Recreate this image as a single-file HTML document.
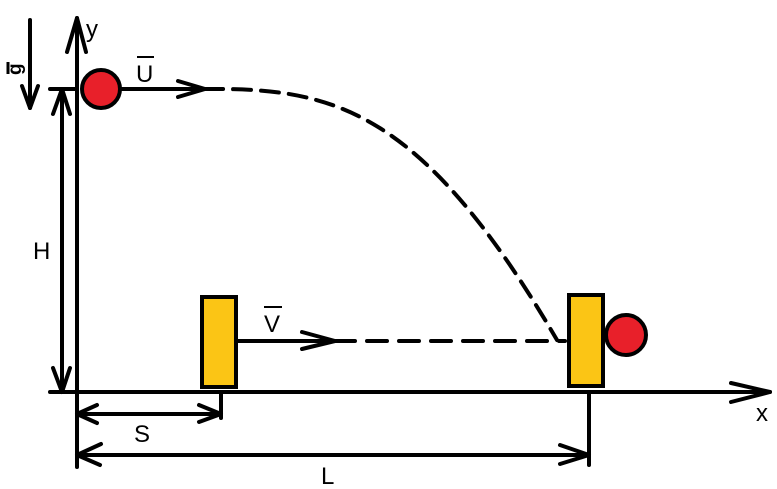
<!DOCTYPE html>
<html><head><meta charset="utf-8"><style>
html,body{margin:0;padding:0;background:#fff;width:777px;height:489px;overflow:hidden}
svg{display:block}
text{font-family:"Liberation Sans",sans-serif;fill:#000}
</style></head><body>
<svg width="777" height="489" viewBox="0 0 777 489" xmlns="http://www.w3.org/2000/svg">
<g stroke="#000" stroke-width="4" fill="none" stroke-linecap="round" stroke-linejoin="round">
<line x1="77" y1="18" x2="77" y2="467"/>
<polyline points="67,52 77,18 86,52"/>
<line x1="50" y1="392" x2="770" y2="392"/>
<polyline points="731,383 770,392 731,402"/>
<line x1="30" y1="20" x2="30" y2="108"/>
<polyline points="22,86 30,108 38,86"/>
<line x1="50" y1="89" x2="77" y2="89"/>
<line x1="62" y1="89" x2="62" y2="392"/>
<polyline points="53,114 62,89 70,114"/>
<polyline points="53,368 62,392 70,368"/>
<line x1="120" y1="89" x2="205" y2="89"/>
<polyline points="178,81 205,89 178,97"/>
<path d="M205,89 C330,88 420,105 557,340" stroke-dasharray="18,10"/>
<line x1="236" y1="341" x2="335" y2="341"/>
<polyline points="302,332 335,341 302,349"/>
<line x1="335" y1="341" x2="565" y2="341" stroke-dasharray="20,12"/>
<line x1="221" y1="392" x2="221" y2="418"/>
<line x1="77" y1="414" x2="221" y2="414"/>
<polyline points="97,405 77,414 97,423"/>
<polyline points="199,405 221,414 199,422"/>
<line x1="589" y1="392" x2="589" y2="465"/>
<line x1="77" y1="455" x2="589" y2="455"/>
<polyline points="101,444 77,455 100,465"/>
<polyline points="560,445 589,455 560,464"/>
</g>
<rect x="202" y="297" width="34" height="90" fill="#fbc515" stroke="#000" stroke-width="4"/>
<rect x="569" y="295" width="34" height="91" fill="#fbc515" stroke="#000" stroke-width="4"/>
<circle cx="101" cy="89" r="19" fill="#e8202a" stroke="#000" stroke-width="4"/>
<circle cx="626" cy="335" r="20" fill="#e8202a" stroke="#000" stroke-width="4"/>
<text x="86" y="37" font-size="24">y</text>
<text x="756" y="421" font-size="24">x</text>
<text x="136" y="82" font-size="24">U</text>
<line x1="137" y1="57" x2="154" y2="57" stroke="#000" stroke-width="2"/>
<text x="264" y="332" font-size="24">V</text>
<line x1="264" y1="307" x2="282" y2="307" stroke="#000" stroke-width="2"/>
<text x="33" y="259" font-size="24">H</text>
<text x="134" y="442" font-size="24">S</text>
<text x="321" y="484" font-size="24">L</text>
<text transform="translate(21,75) rotate(-90)" font-size="19" font-weight="bold">g</text>
<line x1="8" y1="62" x2="8" y2="74" stroke="#000" stroke-width="3"/>
</svg>
</body></html>
